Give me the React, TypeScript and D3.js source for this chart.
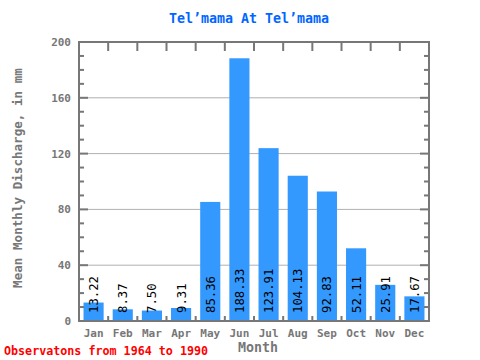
import React, { useEffect, useRef } from 'react';
import * as d3 from 'd3';

const months = ['Jan', 'Feb', 'Mar', 'Apr', 'May', 'Jun', 'Jul', 'Aug', 'Sep', 'Oct', 'Nov', 'Dec'];
const discharge = [13.22, 8.37, 7.5, 9.31, 85.36, 188.33, 123.91, 104.13, 92.83, 52.11, 25.91, 17.67];
const yTicks = [0, 40, 80, 120, 160, 200];
const minorTicks = d3.range(0, 201, 10);

const FONT = '"DejaVu Sans Mono", "Liberation Mono", monospace';

export default function App() {
  const ref = useRef<SVGSVGElement>(null);

  useEffect(() => {
    const svg = d3.select(ref.current);
    svg.selectAll('*').remove();

    // plot area
    const left = 79, right = 429, top = 42, bottom = 321;
    const axisColor = '#777777';

    const x = d3.scaleBand().domain(months).range([left, right]).paddingInner(0.31).paddingOuter(0.155);
    const xb = d3.scaleBand().domain(months).range([left, right]);
    const y = d3.scaleLinear().domain([0, 200]).range([bottom, top]);

    const g = svg.append('g');

    // grid lines
    g.selectAll('.grid').data(yTicks.filter(d => d > 0 && d < 200)).join('line')
      .attr('x1', left).attr('x2', right)
      .attr('y1', d => y(d)).attr('y2', d => y(d))
      .attr('stroke', '#b0b0b0').attr('stroke-width', 1);

    // bars
    g.selectAll('.bar').data(discharge).join('rect')
      .attr('x', (d, i) => x(months[i])!)
      .attr('width', x.bandwidth())
      .attr('y', d => y(d))
      .attr('height', d => bottom - y(d))
      .attr('fill', '#3399ff');

    // frame
    g.append('rect')
      .attr('x', left).attr('y', top)
      .attr('width', right - left).attr('height', bottom - top)
      .attr('fill', 'none').attr('stroke', axisColor).attr('stroke-width', 2);

    // x ticks at band boundaries, top and bottom
    const bounds = months.slice(1).map(m => xb(m)!);
    g.selectAll('.xt-top').data(bounds).join('line')
      .attr('x1', d => d).attr('x2', d => d)
      .attr('y1', top).attr('y2', top + 9)
      .attr('stroke', axisColor).attr('stroke-width', 2);
    g.selectAll('.xt-bot').data(bounds).join('line')
      .attr('x1', d => d).attr('x2', d => d)
      .attr('y1', bottom).attr('y2', bottom - 5)
      .attr('stroke', axisColor).attr('stroke-width', 2);

    // y ticks on both sides
    g.selectAll('.yt-left').data(minorTicks).join('line')
      .attr('x1', left).attr('x2', d => left + (d % 40 === 0 ? 9 : 5))
      .attr('y1', d => y(d)).attr('y2', d => y(d))
      .attr('stroke', axisColor).attr('stroke-width', 2);
    g.selectAll('.yt-right').data(minorTicks).join('line')
      .attr('x1', right).attr('x2', d => right - (d % 40 === 0 ? 9 : 5))
      .attr('y1', d => y(d)).attr('y2', d => y(d))
      .attr('stroke', axisColor).attr('stroke-width', 2);

    // y tick labels
    g.selectAll('.yl').data(yTicks).join('text')
      .attr('x', 71).attr('y', d => y(d) + 4)
      .attr('text-anchor', 'end')
      .attr('font-family', FONT).attr('font-size', 11).attr('font-weight', 'bold')
      .attr('fill', axisColor)
      .text(d => d);

    // month labels
    g.selectAll('.ml').data(months).join('text')
      .attr('x', d => xb(d)! + xb.bandwidth() / 2).attr('y', 337)
      .attr('text-anchor', 'middle')
      .attr('font-family', FONT).attr('font-size', 11).attr('font-weight', 'bold')
      .attr('fill', axisColor)
      .text(d => d);

    // value labels
    g.selectAll('.vl').data(discharge).join('text')
      .attr('transform', (d, i) => `translate(${x(months[i])! + x.bandwidth() / 2 + 4.5}, 313) rotate(-90)`)
      .attr('text-anchor', 'start')
      .attr('font-family', FONT).attr('font-size', 12.3)
      .attr('fill', '#000000')
      .text(d => d.toFixed(2));

    // title
    svg.append('text')
      .attr('x', 249).attr('y', 23)
      .attr('text-anchor', 'middle')
      .attr('font-family', FONT).attr('font-size', 13.3).attr('font-weight', 'bold')
      .attr('fill', '#0066ff')
      .text('Tel\u2019mama At Tel\u2019mama');

    // axis titles
    svg.append('text')
      .attr('x', 258).attr('y', 352)
      .attr('text-anchor', 'middle')
      .attr('font-family', FONT).attr('font-size', 13.3).attr('font-weight', 'bold')
      .attr('fill', axisColor)
      .text('Month');

    svg.append('text')
      .attr('transform', 'translate(22, 178) rotate(-90)')
      .attr('text-anchor', 'middle')
      .attr('font-family', FONT).attr('font-size', 12.6).attr('font-weight', 'bold')
      .attr('fill', axisColor)
      .text('Mean Monthly Discharge, in mm');

    svg.append('text')
      .attr('x', 4).attr('y', 355)
      .attr('font-family', FONT).attr('font-size', 11.7).attr('font-weight', 'bold')
      .attr('fill', '#ff0000')
      .text('Observatons from 1964 to 1990');
  }, []);

  return (
    <svg ref={ref} width={480} height={360}
      style={{ position: 'absolute', left: 0, top: 0, background: '#ffffff' }} />
  );
}
